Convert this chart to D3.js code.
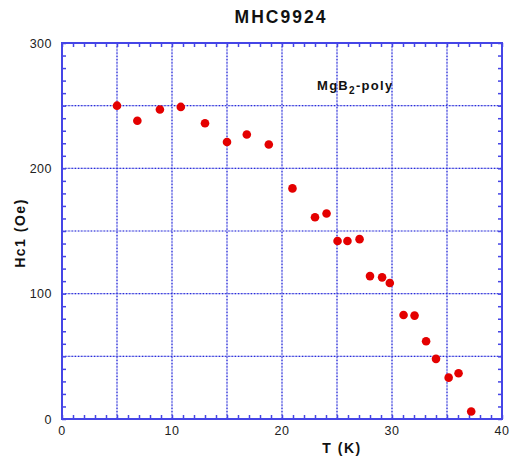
<!DOCTYPE html>
<html><head><meta charset="utf-8">
<script src="https://cdn.jsdelivr.net/npm/d3@7"></script>
<style>body{margin:0;background:#fff;} svg{display:block;}</style>
</head><body>
<svg id="c" width="510" height="459"></svg>
<script>
const temperature = [5, 6.85, 8.9, 10.8, 13, 15, 16.8, 18.8, 20.95, 23, 24.05, 25.05, 25.95, 27.05, 28, 29.1, 29.8, 31.05, 32.05, 33.1, 34, 35.15, 36.05, 37.2];
const hc1 = [250, 238, 247, 249, 236, 221, 227, 219, 184, 161, 164, 142, 142, 143.5, 114, 113, 108.5, 83, 82.5, 62, 48, 33, 36.5, 6];
const xTicks = [0, 10, 20, 30, 40];
const yTicks = [0, 100, 200, 300];
const xGrid = [5, 10, 15, 20, 25, 30, 35];
const yGrid = [50, 100, 150, 200, 250];

const svg = d3.select('#c');
const L = 62, R = 502, T = 43, B = 419;
const x = d3.scaleLinear().domain([0, 40]).range([L, R]);
const y = d3.scaleLinear().domain([0, 300]).range([B, T]);
const blue = '#4545e6';

// grid: light base line with darker dots
function gridLines(sel) {
  sel.append('g').selectAll('line').data(xGrid).join('line')
    .attr('x1', d => x(d)).attr('x2', d => x(d)).attr('y1', T).attr('y2', B);
  sel.append('g').selectAll('line').data(yGrid).join('line')
    .attr('y1', d => y(d)).attr('y2', d => y(d)).attr('x1', L).attr('x2', R);
}
svg.append('g').attr('stroke', '#b4b8f4').attr('stroke-width', 1.2).call(gridLines);
svg.append('g').attr('stroke', '#2a2ad8').attr('stroke-width', 1.2).attr('stroke-dasharray', '1.2,2').call(gridLines);

// minor ticks via axes
const tl = 4;
svg.append('g').attr('transform', `translate(0,${B})`)
  .call(d3.axisTop(x).ticks(40).tickSize(tl).tickFormat(''))
  .call(g => g.select('.domain').remove())
  .call(g => g.selectAll('line').attr('stroke', blue).attr('stroke-width', 1.5));
svg.append('g').attr('transform', `translate(0,${T})`)
  .call(d3.axisBottom(x).ticks(40).tickSize(tl).tickFormat(''))
  .call(g => g.select('.domain').remove())
  .call(g => g.selectAll('line').attr('stroke', blue).attr('stroke-width', 1.5));
svg.append('g').attr('transform', `translate(${L},0)`)
  .call(d3.axisRight(y).ticks(30).tickSize(tl).tickFormat(''))
  .call(g => g.select('.domain').remove())
  .call(g => g.selectAll('line').attr('stroke', blue).attr('stroke-width', 1.5));
svg.append('g').attr('transform', `translate(${R},0)`)
  .call(d3.axisLeft(y).ticks(30).tickSize(tl).tickFormat(''))
  .call(g => g.select('.domain').remove())
  .call(g => g.selectAll('line').attr('stroke', blue).attr('stroke-width', 1.5));

// frame
svg.append('rect').attr('x', L).attr('y', T).attr('width', R - L).attr('height', B - T)
  .attr('fill', 'none').attr('stroke', blue).attr('stroke-width', 2);

// tick labels
const font = 'Arial, "Liberation Sans", Helvetica, sans-serif';
svg.append('g').selectAll('text').data(xTicks).join('text')
  .attr('x', d => x(d)).attr('y', 435).attr('text-anchor', 'middle')
  .attr('font-family', font).attr('font-size', 12.5).attr('fill', '#222').attr('letter-spacing', 0.5)
  .text(d => d);
svg.append('g').selectAll('text').data(yTicks).join('text')
  .attr('x', 52).attr('y', d => y(d) + 4.5).attr('text-anchor', 'end')
  .attr('font-family', font).attr('font-size', 12.5).attr('fill', '#222').attr('letter-spacing', 0.5)
  .text(d => d);

// points
svg.append('g').selectAll('circle').data(temperature).join('circle')
  .attr('cx', d => x(d)).attr('cy', (d, i) => y(hc1[i])).attr('r', 4.3)
  .attr('fill', '#e40000');

// title
svg.append('text').attr('x', 281).attr('y', 23).attr('text-anchor', 'middle')
  .attr('font-family', font).attr('font-weight', 'bold').attr('font-size', 17.5).attr('letter-spacing', 2)
  .attr('fill', '#111').text('MHC9924');

// axis titles
svg.append('text').attr('x', 342).attr('y', 453).attr('text-anchor', 'middle')
  .attr('font-family', font).attr('font-weight', 'bold').attr('font-size', 14).attr('letter-spacing', 1.5)
  .attr('fill', '#111').text('T (K)');
svg.append('text').attr('transform', 'translate(25,233) rotate(-90)').attr('text-anchor', 'middle')
  .attr('font-family', font).attr('font-weight', 'bold').attr('font-size', 14).attr('letter-spacing', 1.5)
  .attr('fill', '#111').text('Hc1 (Oe)');

// annotation
const ann = svg.append('text').attr('x', 317).attr('y', 90)
  .attr('font-family', font).attr('font-weight', 'bold').attr('font-size', 13).attr('letter-spacing', 1.3)
  .attr('fill', '#111');
ann.append('tspan').text('MgB');
ann.append('tspan').attr('dy', 4).attr('font-size', 10).text('2');
ann.append('tspan').attr('dy', -4).text('-poly');
</script>
</body></html>
